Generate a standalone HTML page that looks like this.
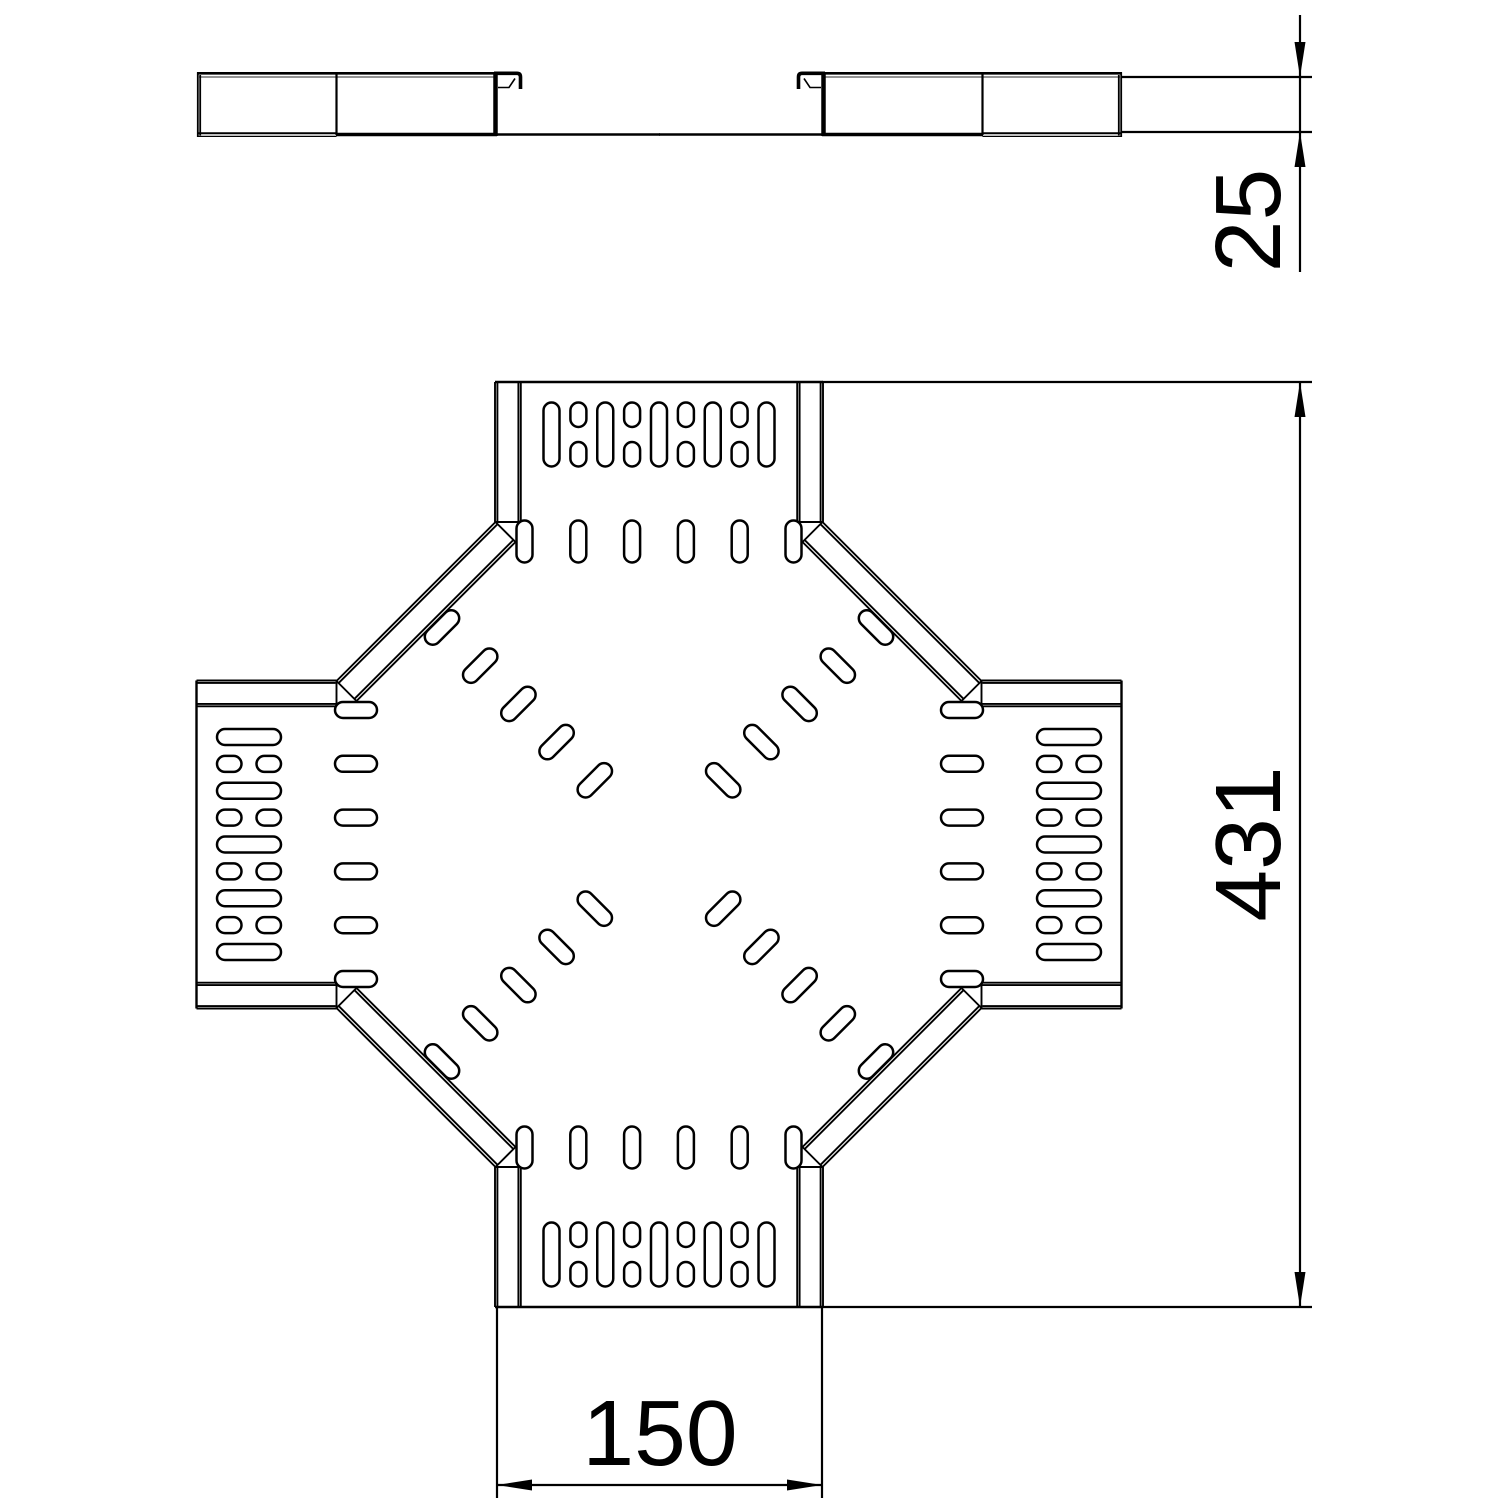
<!DOCTYPE html>
<html>
<head>
<meta charset="utf-8">
<style>
html,body{margin:0;padding:0;background:#fff;}
svg{display:block;}
text{font-family:"Liberation Sans",Arial,sans-serif;fill:#000;}
</style>
</head>
<body>
<svg width="1500" height="1500" viewBox="0 0 1500 1500" xmlns="http://www.w3.org/2000/svg">
<rect width="1500" height="1500" fill="#fff"/>
<defs>
  <g id="q" fill="none" stroke="#000">
    <line x1="495" y1="382" x2="823" y2="382" stroke-width="2.4"/>
    <path d="M495 382V522 M497.4 382V521 M518.4 382V522 M520.8 382V522 M823 382V522 M820.6 382V521 M799.6 382V522 M797.2 382V522" stroke-width="1.9"/>
    <path d="M495 522H520.8 M797.2 522H823" stroke-width="1.9"/>
    <path d="M495.5 522L336.5 681 M497.6 524.1L338.6 683.1 M515.5 542L356.5 701 M513.4 539.9L354.4 698.9 M495.5 522L515.5 542 M336.5 681L356.5 701" stroke-width="1.9"/>
    <g stroke-width="2.5">
      <rect x="543.5" y="402.5" width="16" height="64" rx="8"/>
      <rect x="597.25" y="402.5" width="16" height="64" rx="8"/>
      <rect x="651" y="402.5" width="16" height="64" rx="8"/>
      <rect x="704.75" y="402.5" width="16" height="64" rx="8"/>
      <rect x="758.5" y="402.5" width="16" height="64" rx="8"/>
      <rect x="570.4" y="402.5" width="16" height="24.5" rx="8"/>
      <rect x="570.4" y="442" width="16" height="24.5" rx="8"/>
      <rect x="624.1" y="402.5" width="16" height="24.5" rx="8"/>
      <rect x="624.1" y="442" width="16" height="24.5" rx="8"/>
      <rect x="677.9" y="402.5" width="16" height="24.5" rx="8"/>
      <rect x="677.9" y="442" width="16" height="24.5" rx="8"/>
      <rect x="731.6" y="402.5" width="16" height="24.5" rx="8"/>
      <rect x="731.6" y="442" width="16" height="24.5" rx="8"/>
      <rect x="516.5" y="520.5" width="16" height="42" rx="8"/>
      <rect x="570.3" y="520.5" width="16" height="42" rx="8"/>
      <rect x="624.1" y="520.5" width="16" height="42" rx="8"/>
      <rect x="677.9" y="520.5" width="16" height="42" rx="8"/>
      <rect x="731.7" y="520.5" width="16" height="42" rx="8"/>
      <rect x="785.5" y="520.5" width="16" height="42" rx="8"/>
      <rect x="421" y="619.5" width="42" height="16" rx="8" transform="rotate(-45 442 627.5)"/>
      <rect x="459.2" y="657.7" width="42" height="16" rx="8" transform="rotate(-45 480.2 665.7)"/>
      <rect x="497.4" y="695.9" width="42" height="16" rx="8" transform="rotate(-45 518.4 703.9)"/>
      <rect x="535.6" y="734.1" width="42" height="16" rx="8" transform="rotate(-45 556.6 742.1)"/>
      <rect x="573.8" y="772.3" width="42" height="16" rx="8" transform="rotate(-45 594.8 780.3)"/>
    </g>
  </g>
  <g id="h" fill="none" stroke="#000">
    <line x1="197" y1="73.3" x2="496" y2="73.3" stroke-width="2.6"/>
    <line x1="199" y1="77" x2="495" y2="77" stroke-width="1.2" stroke="#555"/>
    <path d="M197.8 72.3V137 M200.2 75V135.5" stroke-width="1.8"/>
    <line x1="336.5" y1="73" x2="336.5" y2="135" stroke-width="2.2"/>
    <line x1="197" y1="133.2" x2="336.5" y2="133.2" stroke-width="2"/>
    <line x1="197" y1="136.4" x2="336.5" y2="136.4" stroke-width="1.3"/>
    <line x1="336" y1="134.5" x2="497" y2="134.5" stroke-width="3.6"/>
    <line x1="495.5" y1="72" x2="495.5" y2="136" stroke-width="4.5"/>
    <path d="M494 73.3H517Q520.5 73.3 520.5 77V89" stroke-width="3.6"/>
    <path d="M498 87.5H509L515 78.5" stroke-width="1.6"/>
    <line x1="497" y1="134.5" x2="660" y2="134.5" stroke-width="2.6"/>
  </g>
</defs>

<use href="#q"/>
<use href="#q" transform="rotate(90 659 844.5)"/>
<use href="#q" transform="rotate(180 659 844.5)"/>
<use href="#q" transform="rotate(270 659 844.5)"/>

<use href="#h"/>
<use href="#h" transform="translate(1319 0) scale(-1 1)"/>

<g stroke="#000" stroke-width="2.2" fill="none">
  <line x1="1122" y1="77" x2="1312" y2="77"/>
  <line x1="1122" y1="132" x2="1312" y2="132"/>
  <line x1="1300" y1="15" x2="1300" y2="272"/>
  <line x1="822" y1="382" x2="1312" y2="382"/>
  <line x1="822" y1="1307" x2="1312" y2="1307"/>
  <line x1="1300" y1="382" x2="1300" y2="1307"/>
  <line x1="497" y1="1307" x2="497" y2="1498"/>
  <line x1="822" y1="1307" x2="822" y2="1498"/>
  <line x1="497" y1="1485" x2="822" y2="1485"/>
</g>
<g fill="#000">
  <polygon points="1300,77 1294.5,42 1305.5,42"/>
  <polygon points="1300,132 1294.5,167 1305.5,167"/>
  <polygon points="1300,382 1294.5,417 1305.5,417"/>
  <polygon points="1300,1307 1294.5,1272 1305.5,1272"/>
  <polygon points="497,1485 532,1479.5 532,1490.5"/>
  <polygon points="822,1485 787,1479.5 787,1490.5"/>
</g>

<text x="0" y="0" font-size="93" text-anchor="middle" transform="translate(1280 220.5) rotate(-90)">25</text>
<text x="0" y="0" font-size="93" text-anchor="middle" transform="translate(1280 844) rotate(-90)">431</text>
<text x="660" y="1465" font-size="93" text-anchor="middle">150</text>
</svg>
</body>
</html>
